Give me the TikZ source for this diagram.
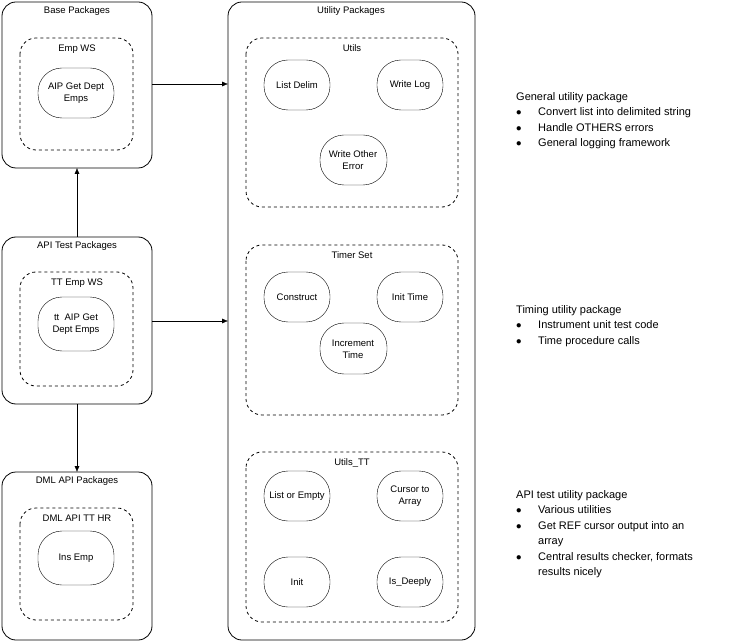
\documentclass[tikz,border=0pt]{standalone}
\usepackage{fontspec}
\setmainfont{Liberation Sans}
\usetikzlibrary{arrows.meta}
\begin{document}
\begin{tikzpicture}[x=1pt,y=-1pt,
  pkg/.style={draw,thick,rounded corners=14pt},
  grp/.style={draw,thick,dashed,rounded corners=16pt},
  pill/.style={draw,rounded corners=24pt,align=center,font=\fontsize{9.5}{12}\selectfont,inner sep=0pt},
  ttl/.style={font=\fontsize{9.5}{11}\selectfont,anchor=north},
  arr/.style={-{Latex[length=6pt,width=5pt]}},
  note/.style={anchor=north west,align=left,font=\fontsize{11}{15.5}\selectfont,inner sep=0pt}]
\useasboundingbox (0,0) rectangle (733,644);
% Base
\draw[pkg] (2,2) rectangle (152,168); \node[ttl] (tb) at (77,3) {Base Packages};
\coordinate (bR) at (152,84); \coordinate (bB) at (77,168);
\draw[grp] (20,38) rectangle (133,150); \node[ttl] (te) at (77,41) {Emp WS};
\draw[pill] (38,68) rectangle (114,118); \node[pill,draw=none] (p1) at (76,93) {AIP Get Dept\\Emps};
% API
\draw[pkg] (2,237) rectangle (152,404); \node[ttl] (ta) at (77,238) {API Test Packages};
\coordinate (aR) at (152,321); \coordinate (aT) at (77,237); \coordinate (aB) at (77,404);
\draw[grp] (20,272) rectangle (133,386); \node[ttl] (tt) at (77,275) {TT Emp WS};
\draw[pill] (38,297) rectangle (114,351); \node[pill,draw=none] (p2) at (76,324) {tt\ \ AIP Get\\Dept Emps};
% DML
\draw[pkg] (2,472) rectangle (152,640); \node[ttl] (td) at (77,473) {DML API Packages};
\coordinate (dT) at (77,472);
\draw[grp] (20,508) rectangle (133,620); \node[ttl] (th) at (77,511) {DML API TT HR};
\draw[pill] (38,531) rectangle (114,585); \node[pill,draw=none] (p3) at (76,558) {Ins Emp};
% Utility
\draw[pkg] (228,2) rectangle (475,640); \node[ttl] (tu) at (351,3) {Utility Packages};
\coordinate (u1) at (228,84); \coordinate (u2) at (228,321);
\draw[grp] (246,38) rectangle (458,207); \node[ttl] (g1) at (352,41) {Utils};
\draw[pill] (264,60) rectangle (330,110); \node (q1) at (297,85) [pill,draw=none] {List Delim};
\draw[pill] (377,60) rectangle (443,110); \node (q2) at (410,85) [pill,draw=none] {Write Log};
\draw[pill] (320,135) rectangle (387,185); \node (q3) at (353,160) [pill,draw=none] {Write Other\\Error};
\draw[grp] (246,245) rectangle (458,415); \node[ttl] (g2) at (352,248) {Timer Set};
\draw[pill] (264,272) rectangle (330,322); \node (q4) at (297,297) [pill,draw=none] {Construct};
\draw[pill] (377,272) rectangle (443,322); \node (q5) at (410,297) [pill,draw=none] {Init Time};
\draw[pill] (320,323) rectangle (387,374); \node (q6) at (353,349) [pill,draw=none] {Increment\\Time};
\draw[grp] (246,452) rectangle (458,622); \node[ttl] (g3) at (352,455) {Utils\_TT};
\draw[pill] (264,471) rectangle (330,521); \node (q7) at (297,496) [pill,draw=none] {List or Empty};
\draw[pill] (377,471) rectangle (443,521); \node (q8) at (410,496) [pill,draw=none] {Cursor to\\Array};
\draw[pill] (264,557) rectangle (330,607); \node (q9) at (297,582) [pill,draw=none] {Init};
\draw[pill] (377,557) rectangle (443,607); \node (q10) at (410,582) [pill,draw=none] {Is\_Deeply};
% arrows
\draw[arr] (bR) -- (u1);
\draw[arr] (aR) -- (u2);
\draw[arr] (aT) -- (bB);
\draw[arr] (aB) -- (dT);
% notes
\node[note] (n1) at (516,92) {General utility package\\
\makebox[22pt][l]{$\bullet$}Convert list into delimited string\\
\makebox[22pt][l]{$\bullet$}Handle OTHERS errors\\
\makebox[22pt][l]{$\bullet$}General logging framework};
\node[note] (n2) at (516,305) {Timing utility package\\
\makebox[22pt][l]{$\bullet$}Instrument unit test code\\
\makebox[22pt][l]{$\bullet$}Time procedure calls};
\node[note] (n3) at (516,490) {API test utility package\\
\makebox[22pt][l]{$\bullet$}Various utilities\\
\makebox[22pt][l]{$\bullet$}Get REF cursor output into an\\
\makebox[22pt][l]{}array\\
\makebox[22pt][l]{$\bullet$}Central results checker, formats\\
\makebox[22pt][l]{}results nicely};
\end{tikzpicture}
\end{document}
